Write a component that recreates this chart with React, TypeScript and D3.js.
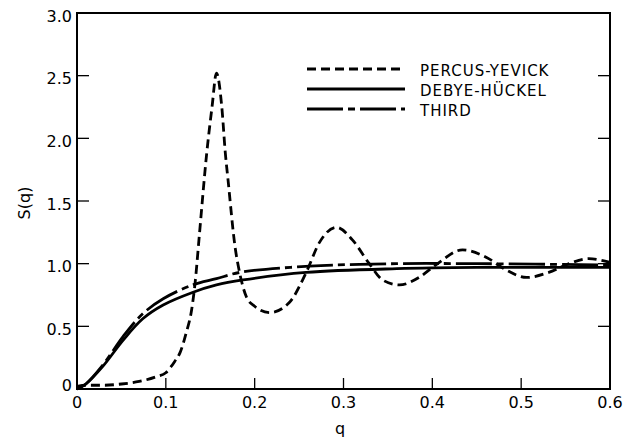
import React, { useEffect, useRef } from 'react';
import * as d3 from 'd3';

// Percus-Yevick (dashed)
const pyQ = [0, 0.01, 0.03, 0.05, 0.07, 0.09, 0.1, 0.105, 0.11, 0.116, 0.123, 0.129, 0.133, 0.138, 0.146, 0.152, 0.157, 0.163, 0.167, 0.17, 0.178, 0.183, 0.191, 0.2, 0.217, 0.239, 0.258, 0.273, 0.292, 0.31, 0.329, 0.344, 0.363, 0.385, 0.404, 0.434, 0.461, 0.483, 0.506, 0.531, 0.554, 0.576, 0.6];
const pyS = [0.02, 0.03, 0.03, 0.04, 0.06, 0.1, 0.13, 0.17, 0.22, 0.29, 0.45, 0.63, 0.85, 1.25, 1.88, 2.25, 2.52, 2.25, 1.88, 1.67, 1.13, 0.93, 0.73, 0.66, 0.61, 0.69, 0.93, 1.17, 1.29, 1.19, 1.0, 0.87, 0.83, 0.89, 0.99, 1.11, 1.05, 0.95, 0.89, 0.93, 1.0, 1.04, 1.01];

// Debye-Huckel (solid)
const dhQ = [0, 0.01, 0.029, 0.052, 0.074, 0.097, 0.13, 0.157, 0.187, 0.258, 0.36, 0.45, 0.6];
const dhS = [0, 0.04, 0.18, 0.39, 0.56, 0.67, 0.77, 0.83, 0.87, 0.93, 0.96, 0.97, 0.97];

// Third (dash-dot)
const thQ = [0, 0.01, 0.029, 0.052, 0.074, 0.097, 0.13, 0.157, 0.183, 0.262, 0.36, 0.45, 0.6];
const thS = [0, 0.04, 0.19, 0.42, 0.6, 0.72, 0.83, 0.88, 0.93, 0.98, 1.0, 1.0, 0.99];

const xTicks = [0, 0.1, 0.2, 0.3, 0.4, 0.5, 0.6];
const xTickLabels = ['0', '0.1', '0.2', '0.3', '0.4', '0.5', '0.6'];
const yTicks = [0, 0.5, 1.0, 1.5, 2.0, 2.5, 3.0];
const yTickLabels = ['0', '0.5', '1.0', '1.5', '2.0', '2.5', '3.0'];

const legendNames = ['PERCUS-YEVICK', 'DEBYE-HÜCKEL', 'THIRD'];
const dashes = ['9,5', null, '36,5,7,5'];

export default function App() {
  const ref = useRef<SVGSVGElement>(null);

  useEffect(() => {
    const svg = d3.select(ref.current);
    svg.selectAll('*').remove();

    const left = 77, right = 610, top = 13, bottom = 389;
    const font = 'DejaVu Sans, sans-serif';

    const x = d3.scaleLinear().domain([0, 0.6]).range([left, right]);
    const y = d3.scaleLinear().domain([0, 3]).range([bottom, top]);

    // frame
    svg.append('rect')
      .attr('x', left).attr('y', top)
      .attr('width', right - left).attr('height', bottom - top)
      .attr('fill', 'none').attr('stroke', '#000').attr('stroke-width', 2);

    // ticks inside the frame
    const inner = (v) => v > 0 && v < 0.6;
    svg.selectAll('.xt').data(xTicks.filter(inner)).enter().append('line')
      .attr('x1', (d) => x(d)).attr('x2', (d) => x(d))
      .attr('y1', bottom).attr('y2', bottom - 11)
      .attr('stroke', '#000').attr('stroke-width', 1.3);

    const yIn = yTicks.filter((d) => d > 0 && d < 3);
    svg.selectAll('.ytl').data(yIn).enter().append('line')
      .attr('x1', left).attr('x2', left + 12)
      .attr('y1', (d) => y(d)).attr('y2', (d) => y(d))
      .attr('stroke', '#000').attr('stroke-width', 1.3);
    svg.selectAll('.ytr').data(yIn).enter().append('line')
      .attr('x1', right).attr('x2', right - 12)
      .attr('y1', (d) => y(d)).attr('y2', (d) => y(d))
      .attr('stroke', '#000').attr('stroke-width', 1.3);

    // tick labels
    svg.selectAll('.xl').data(xTicks).enter().append('text')
      .attr('x', (d) => x(d)).attr('y', 408)
      .attr('text-anchor', 'middle')
      .attr('font-family', font).attr('font-size', 16)
      .text((d, i) => xTickLabels[i]);

    svg.selectAll('.yl').data(yTicks).enter().append('text')
      .attr('x', 72).attr('y', (d) => (d === 0 ? y(d) - 4 : y(d) + 3))
      .attr('text-anchor', 'end').attr('dominant-baseline', 'central')
      .attr('font-family', font).attr('font-size', 16)
      .text((d, i) => yTickLabels[i]);

    // axis titles
    svg.append('text')
      .attr('transform', 'translate(24,203) rotate(-90)')
      .attr('text-anchor', 'middle').attr('dominant-baseline', 'central')
      .attr('font-family', font).attr('font-size', 16)
      .text('S(q)');
    svg.append('text')
      .attr('x', 340).attr('y', 428)
      .attr('text-anchor', 'middle').attr('dominant-baseline', 'central')
      .attr('font-family', font).attr('font-size', 16)
      .text('q');

    // curves
    const peaky = d3.line<[number, number]>()
      .x((d) => x(d[0])).y((d) => y(d[1]))
      .curve(d3.curveMonotoneX);
    const smooth = d3.line<[number, number]>()
      .x((d) => x(d[0])).y((d) => y(d[1]))
      .curve(d3.curveCatmullRom.alpha(0.5));

    const series = [
      d3.zip(pyQ, pyS),
      d3.zip(dhQ, dhS),
      d3.zip(thQ, thS),
    ];
    series.forEach((pts, i) => {
      const gen = i === 0 ? peaky : smooth;
      svg.append('path')
        .attr('d', gen(pts as [number, number][]))
        .attr('fill', 'none').attr('stroke', '#000')
        .attr('stroke-width', 2.8)
        .attr('stroke-dasharray', dashes[i]);
    });

    // legend
    const lg = svg.append('g');
    legendNames.forEach((name, i) => {
      const ly = 71 + i * 20;
      lg.append('line')
        .attr('x1', 307).attr('x2', 405)
        .attr('y1', ly - 2).attr('y2', ly - 2)
        .attr('stroke', '#000').attr('stroke-width', 2.8)
        .attr('stroke-dasharray', dashes[i]);
      lg.append('text')
        .attr('x', 420).attr('y', ly)
        .attr('dominant-baseline', 'central')
        .attr('font-family', font).attr('font-size', 15)
        .attr('letter-spacing', 1)
        .text(name);
    });
  }, []);

  return (
    <svg ref={ref} width={630} height={440}
      style={{ position: 'absolute', left: 0, top: 0, background: '#fff' }} />
  );
}
